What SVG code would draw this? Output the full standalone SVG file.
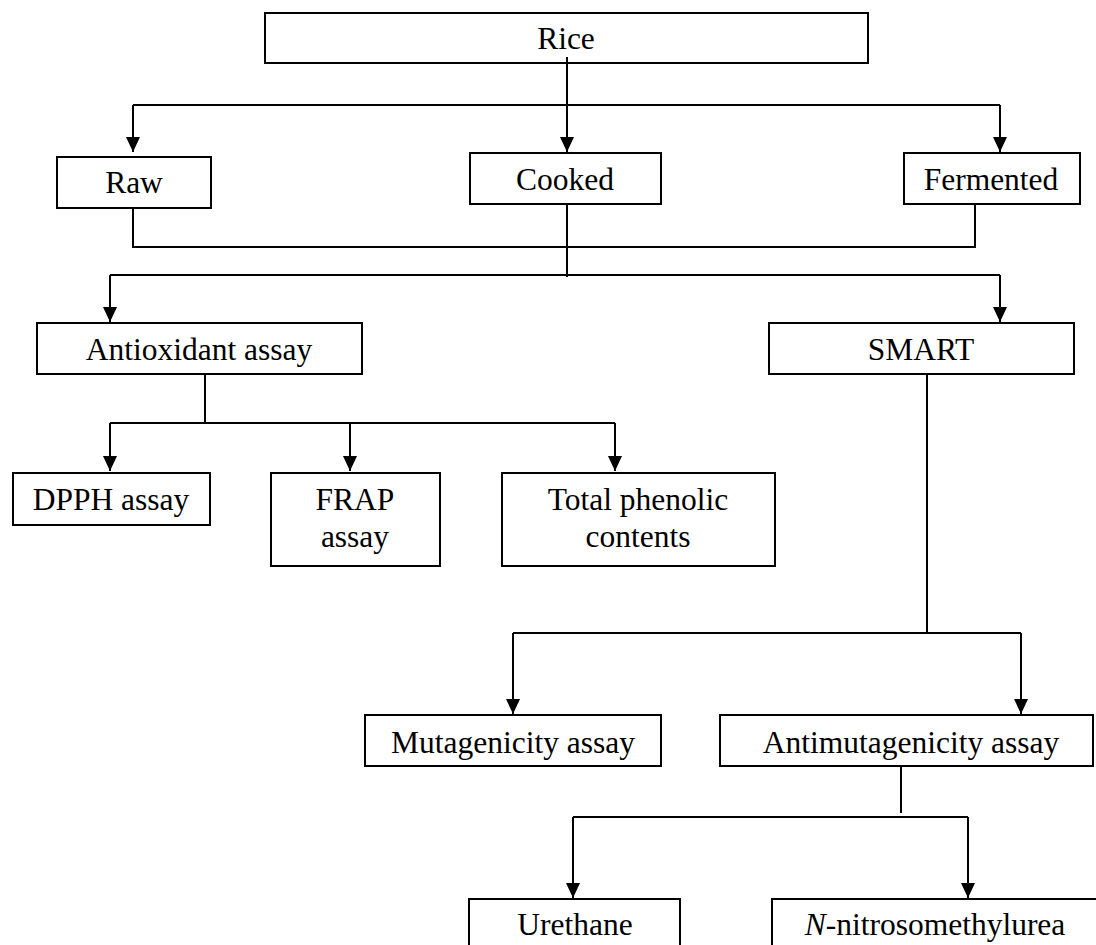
<svg xmlns="http://www.w3.org/2000/svg" width="1096" height="945" viewBox="0 0 1096 945">
<style>
.box{fill:#fff;stroke:#000;stroke-width:2}
.lbl{font-family:"Liberation Serif","Times New Roman",serif;font-size:31.5px;fill:#000;text-anchor:middle}
.ln{fill:none;stroke:#000;stroke-width:2}
</style>
<defs>
<marker id="arr" viewBox="0 0 15 14" refX="15" refY="7" markerWidth="15" markerHeight="14" markerUnits="userSpaceOnUse" orient="auto">
<path d="M0,0 L15,7 L0,14 z" fill="#000"/>
</marker>
</defs>
<rect width="1096" height="945" fill="#fff"/>
<g id="connectors">
<path class="ln" d="M567,57 V152" marker-end="url(#arr)"/>
<path class="ln" d="M133,105 H1000"/>
<path class="ln" d="M133,105 V152" marker-end="url(#arr)"/>
<path class="ln" d="M1000,105 V152" marker-end="url(#arr)"/>
<path class="ln" d="M133,208 V247 H975 V204"/>
<path class="ln" d="M567,204 V277"/>
<path class="ln" d="M110,275 H1000"/>
<path class="ln" d="M110,275 V322" marker-end="url(#arr)"/>
<path class="ln" d="M1000,275 V322" marker-end="url(#arr)"/>
<path class="ln" d="M205,374 V423"/>
<path class="ln" d="M110,423 H615"/>
<path class="ln" d="M110,423 V471" marker-end="url(#arr)"/>
<path class="ln" d="M350,423 V471" marker-end="url(#arr)"/>
<path class="ln" d="M615,423 V471" marker-end="url(#arr)"/>
<path class="ln" d="M927,367 V633"/>
<path class="ln" d="M513,633 H1021"/>
<path class="ln" d="M513,633 V714" marker-end="url(#arr)"/>
<path class="ln" d="M1021,633 V714" marker-end="url(#arr)"/>
<path class="ln" d="M901,766 V813"/>
<path class="ln" d="M573,817 H968"/>
<path class="ln" d="M573,817 V898" marker-end="url(#arr)"/>
<path class="ln" d="M968,817 V898" marker-end="url(#arr)"/>
</g>
<g id="rice"><rect class="box" x="265" y="13" width="603" height="50" style="fill:none"/><text class="lbl" x="566" y="49">Rice</text></g>
<g id="raw"><rect class="box" x="57" y="157" width="154" height="51"/><text class="lbl" x="134" y="193">Raw</text></g>
<g id="cooked"><rect class="box" x="470" y="153" width="191" height="51"/><text class="lbl" x="565" y="190">Cooked</text></g>
<g id="fermented"><rect class="box" x="904" y="153" width="176" height="51"/><text class="lbl" x="991" y="190">Fermented</text></g>
<g id="antioxidant"><rect class="box" x="37" y="323" width="325" height="51"/><text class="lbl" x="199" y="360">Antioxidant assay</text></g>
<g id="smart"><rect class="box" x="769" y="323" width="305" height="51"/><text class="lbl" x="921" y="360">SMART</text></g>
<g id="dpph"><rect class="box" x="13" y="473" width="197" height="52"/><text class="lbl" x="111" y="510">DPPH assay</text></g>
<g id="frap"><rect class="box" x="271" y="473" width="169" height="93"/><text class="lbl" x="355" y="510">FRAP</text><text class="lbl" x="355" y="547">assay</text></g>
<g id="phenolic"><rect class="box" x="502" y="473" width="273" height="93"/><text class="lbl" x="638" y="510">Total phenolic</text><text class="lbl" x="638" y="547">contents</text></g>
<g id="mutagenicity"><rect class="box" x="365" y="715" width="296" height="51"/><text class="lbl" x="513" y="753">Mutagenicity assay</text></g>
<g id="antimutagenicity"><rect class="box" x="720" y="715" width="373" height="51"/><text class="lbl" x="911" y="753">Antimutagenicity assay</text></g>
<g id="urethane"><rect class="box" x="469" y="899" width="211" height="60"/><text class="lbl" x="575" y="935">Urethane</text></g>
<g id="nmu"><rect class="box" x="772" y="899" width="330" height="60"/><text class="lbl" x="935" y="935"><tspan font-style="italic">N</tspan>-nitrosomethylurea</text></g>
</svg>
